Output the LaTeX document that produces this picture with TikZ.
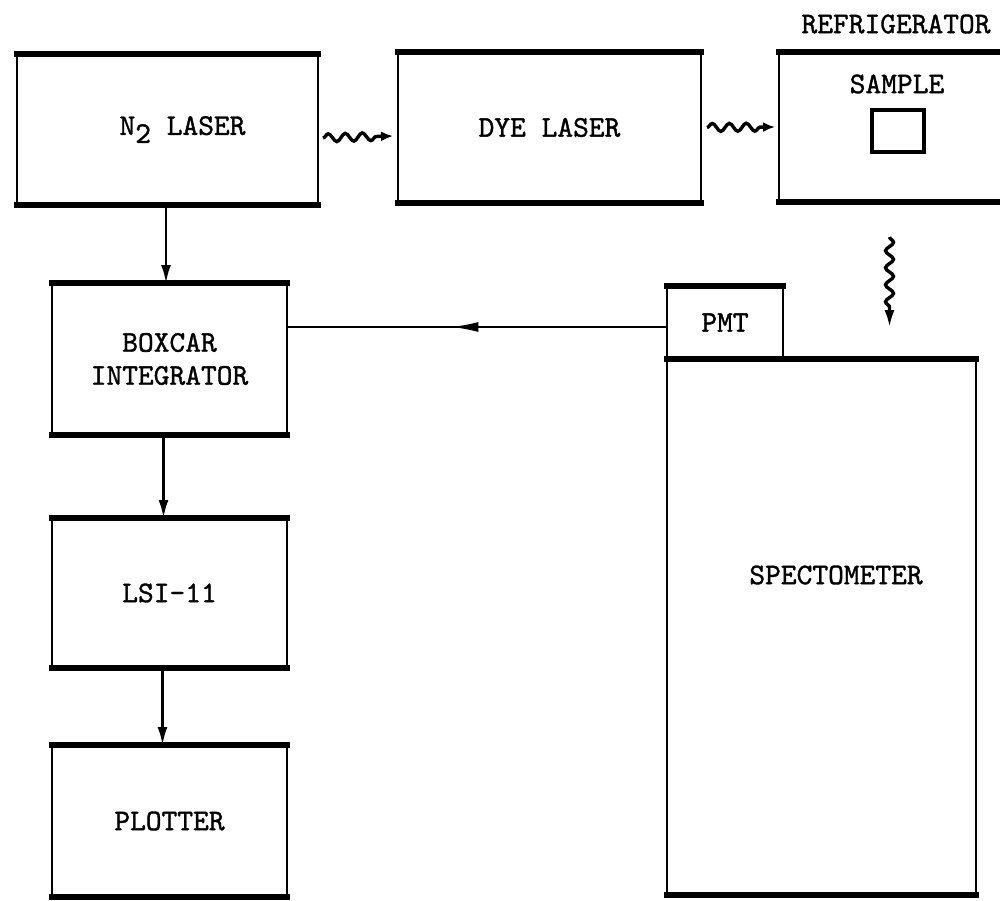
\documentclass[tikz,border=0pt]{standalone}
\usepackage{fontspec}
\usetikzlibrary{arrows.meta,decorations.pathmorphing,decorations.markings}
\newfontfamily\typewr{lmmono10-regular.otf}[FakeBold=1.2]
\begin{document}
\begin{tikzpicture}[x=1pt,y=-1pt,
  every node/.style={font=\typewr\fontsize{30}{33}\selectfont},
  blk/.style={draw, line width=2.4pt, inner sep=0pt, outer sep=0pt, align=center},
  edgebar/.style={line width=6pt, line cap=rect},
  conn/.style={line width=2.4pt, -{Latex[length=18pt,width=10pt]}},
  wavy/.style={line width=3.4pt, decorate,
    decoration={snake, segment length=17pt, amplitude=4pt, post length=14pt},
    -{Latex[length=12pt,width=10pt]}},
  wavyv/.style={line width=3.4pt, decorate,
    decoration={snake, segment length=17pt, amplitude=4pt, post length=18pt},
    -{Latex[length=18pt,width=10pt]}},
  midarrow/.style={decoration={markings,
    mark=at position 0.57 with {\arrow{Latex[length=28pt,width=10pt]}}},
    postaction=decorate}
]
\useasboundingbox (0,0) rectangle (1000,901);

% blocks
\node[blk, minimum width=301pt, minimum height=151pt,
  label={[xshift=15pt]center:N\raisebox{-8pt}{2} LASER}] (n2) at (167.5,129.5) {};
\node[blk, minimum width=303pt, minimum height=151pt] (dye) at (549.5,127.5) {DYE LASER};
\node[inner sep=0pt, outer sep=0pt, minimum width=221pt, minimum height=150pt] (fridge) at (889.5,127) {};
\node (fridgeT) at (896,24) {REFRIGERATOR};
\node (sampleT) at (897,84) {SAMPLE};
\node[draw, line width=3.5pt, minimum width=52pt, minimum height=42pt, inner sep=0pt] (sq) at (898,131) {};

\node[blk, minimum width=235pt, minimum height=152pt] (boxcar) at (169.5,359) {BOXCAR\\INTEGRATOR};
\node[blk, minimum width=235pt, minimum height=150pt] (lsi) at (169.5,593) {LSI-11};
\node[blk, minimum width=235pt, minimum height=152pt] (plotter) at (169.5,821) {PLOTTER};

\node[blk, minimum width=116pt, minimum height=73pt] (pmt) at (725,322.5) {PMT};
\node[blk, minimum width=309pt, minimum height=536pt] (spec) at (821.5,627) {};
\node (specT) at (836,575) {SPECTOMETER};

% thick top and bottom edges
\foreach \b in {n2,dye,boxcar,lsi,plotter,spec}{
  \draw[edgebar] (\b.north west) -- (\b.north east);
  \draw[edgebar] (\b.south west) -- (\b.south east);
}
\draw[edgebar] (pmt.north west) -- (pmt.north east);
\draw[line width=2.4pt] (fridge.north west) -- (fridge.south west);
\draw[line width=6pt] ([xshift=-3pt]fridge.north west) -- (fridge.north east);
\draw[line width=6pt] ([xshift=-3pt]fridge.south west) -- (fridge.south east);

% connectors
\draw[wavy] ([xshift=5pt,yshift=-8.5pt]n2.east) -- ([xshift=-5pt,yshift=-8.5pt]dye.west);
\draw[wavy] ([xshift=6pt]dye.east) -- ([xshift=-4pt]fridge.west);
\draw[wavyv] ([yshift=-35pt]fridge.south) -- ([yshift=31pt]fridge.south |- spec.north);

\draw[conn] ([xshift=-1.5pt]n2.south) -- ([xshift=-1.5pt]n2.south |- boxcar.north);
\draw[conn] ([xshift=-6pt]boxcar.south) -- ([xshift=-6pt]lsi.north);
\draw[conn] ([xshift=-7pt]lsi.south) -- ([xshift=-7pt]plotter.north);
\draw[line width=2.4pt, midarrow] ([yshift=-4.5pt]pmt.west) -- ([yshift=-4.5pt]pmt.west -| boxcar.east);
\end{tikzpicture}
\end{document}
